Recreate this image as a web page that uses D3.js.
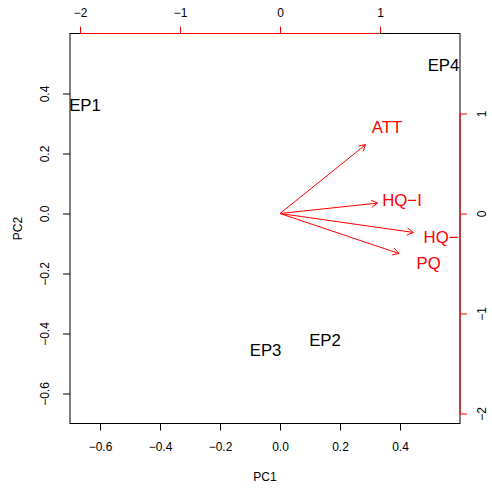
<!DOCTYPE html>
<html>
<head>
<meta charset="utf-8">
<script src="https://cdn.jsdelivr.net/npm/d3@7"></script>
<style>
  body { margin: 0; background: #fff; }
  text { font-family: "Liberation Sans", Arial, sans-serif; }
</style>
</head>
<body>
<div id="chart"></div>
<script>
// scores (observations)
const obsNames = ["EP1", "EP2", "EP3", "EP4"];
const pc1Scores = [-0.65, 0.15, -0.048, 0.545];
const pc2Scores = [0.36, -0.422, -0.457, 0.495];

// loadings (variables)
const varNames = ["ATT", "HQ-I", "HQ-S", "PQ"];
const pc1Load = [1.07, 1.22, 1.667, 1.487];
const pc2Load = [0.86, 0.13, -0.237, -0.50];

const scoreTicks = [-0.6, -0.4, -0.2, 0.0, 0.2, 0.4];
const loadTicks = [-2, -1, 0, 1];

const W = 492, H = 490;
const plot = { left: 70, right: 460, top: 33.5, bottom: 423.5 };

const svg = d3.select("#chart").append("svg")
  .attr("width", W)
  .attr("height", H);

const x = d3.scaleLinear().domain([-0.7, 0.6]).range([plot.left, plot.right]);
const y = d3.scaleLinear().domain([-0.7, 0.6]).range([plot.bottom, plot.top]);
// loadings scale (top / right axes)
const x2 = d3.scaleLinear().domain([-2.1, 1.8]).range([plot.left, plot.right]);
const y2 = d3.scaleLinear().domain([-2.1, 1.8]).range([plot.bottom, plot.top]);

const fmt = (d) => d3.format(".1f")(d).replace("-", "\u2212");
const fmtInt = (d) => String(d).replace("-", "\u2212");

svg.append("clipPath").attr("id", "clip")
  .append("rect")
  .attr("x", plot.left).attr("y", plot.top)
  .attr("width", plot.right - plot.left)
  .attr("height", plot.bottom - plot.top);

// bottom axis
const axBottom = svg.append("g")
  .attr("transform", `translate(0, ${plot.bottom})`)
  .call(d3.axisBottom(x).tickValues(scoreTicks).tickSize(7).tickFormat(fmt).tickSizeOuter(0));
axBottom.select(".domain").remove();
axBottom.selectAll("text").attr("dy", null).attr("y", 23).attr("dominant-baseline", "central")
  .style("font-size", "12px").style("font-family", "Liberation Sans, Arial, sans-serif");

// left axis
const axLeft = svg.append("g")
  .attr("transform", `translate(${plot.left}, 0)`)
  .call(d3.axisLeft(y).tickValues(scoreTicks).tickSize(7).tickFormat(fmt).tickSizeOuter(0));
axLeft.select(".domain").remove();
axLeft.selectAll("text")
  .attr("x", null).attr("dy", null)
  .attr("text-anchor", "middle")
  .attr("dominant-baseline", "central")
  .attr("transform", "translate(-25,0) rotate(-90)")
  .style("font-size", "12px").style("font-family", "Liberation Sans, Arial, sans-serif");

// box
svg.append("rect")
  .attr("x", plot.left).attr("y", plot.top)
  .attr("width", plot.right - plot.left)
  .attr("height", plot.bottom - plot.top)
  .attr("fill", "none").attr("stroke", "black").attr("stroke-width", 1);

// top axis (loadings, red)
const axTop = svg.append("g")
  .attr("transform", `translate(0, ${plot.top})`)
  .call(d3.axisTop(x2).tickValues(loadTicks).tickSize(7).tickFormat(fmtInt).tickSizeOuter(0));
axTop.select(".domain").remove();
axTop.selectAll("line").attr("stroke", "red");
axTop.selectAll("text").attr("dy", null).attr("y", -21).attr("dominant-baseline", "central")
  .attr("fill", "black")
  .style("font-size", "12px").style("font-family", "Liberation Sans, Arial, sans-serif");
axTop.append("line")
  .attr("x1", x2(-2)).attr("x2", x2(1))
  .attr("stroke", "red");

// right axis (loadings, red)
const axRight = svg.append("g")
  .attr("transform", `translate(${plot.right}, 0)`)
  .call(d3.axisRight(y2).tickValues(loadTicks).tickSize(7).tickFormat(fmtInt).tickSizeOuter(0));
axRight.select(".domain").remove();
axRight.selectAll("line").attr("stroke", "red");
axRight.selectAll("text")
  .attr("x", null).attr("dy", null)
  .attr("text-anchor", "middle")
  .attr("dominant-baseline", "central")
  .attr("fill", "black")
  .attr("transform", "translate(22,0) rotate(-90)")
  .style("font-size", "12px").style("font-family", "Liberation Sans, Arial, sans-serif");
axRight.append("line")
  .attr("y1", y2(-2)).attr("y2", y2(1))
  .attr("stroke", "red");

// axis titles
svg.append("text")
  .attr("x", (plot.left + plot.right) / 2)
  .attr("y", 477)
  .attr("text-anchor", "middle")
  .attr("dominant-baseline", "central")
  .style("font-size", "12px")
  .text("PC1");

svg.append("text")
  .attr("transform", `translate(18, ${(plot.top + plot.bottom) / 2}) rotate(-90)`)
  .attr("text-anchor", "middle")
  .attr("dominant-baseline", "central")
  .style("font-size", "12px")
  .text("PC2");

const inner = svg.append("g").attr("clip-path", "url(#clip)");

// observation labels
inner.selectAll(".obs")
  .data(obsNames)
  .enter()
  .append("text")
  .attr("class", "obs")
  .attr("x", (d, i) => x(pc1Scores[i]))
  .attr("y", (d, i) => y(pc2Scores[i]))
  .attr("text-anchor", "middle")
  .attr("dominant-baseline", "central")
  .style("font-size", "16.8px")
  .attr("fill", "black")
  .text((d) => d);

// arrows drawn to 0.8 of loading, labels at the loading
const headLen = 7.2;
const headAng = Math.PI / 6;
varNames.forEach((name, i) => {
  const x0 = x2(0), y0 = y2(0);
  const x1 = x2(pc1Load[i] * 0.8), y1 = y2(pc2Load[i] * 0.8);
  const a = Math.atan2(y1 - y0, x1 - x0);
  inner.append("line")
    .attr("x1", x0).attr("y1", y0).attr("x2", x1).attr("y2", y1)
    .attr("stroke", "red").attr("stroke-width", 1);
  const p = [
    [x1 - headLen * Math.cos(a - headAng), y1 - headLen * Math.sin(a - headAng)],
    [x1, y1],
    [x1 - headLen * Math.cos(a + headAng), y1 - headLen * Math.sin(a + headAng)]
  ];
  inner.append("path")
    .attr("d", d3.line()(p))
    .attr("fill", "none").attr("stroke", "red").attr("stroke-width", 1);
});

inner.selectAll(".var")
  .data(varNames)
  .enter()
  .append("text")
  .attr("class", "var")
  .attr("x", (d, i) => x2(pc1Load[i]))
  .attr("y", (d, i) => y2(pc2Load[i]))
  .attr("text-anchor", "middle")
  .attr("dominant-baseline", "central")
  .style("font-size", "16.8px")
  .attr("fill", "red")
  .text((d) => d.replace("-", "\u2212"));
</script>
</body>
</html>
